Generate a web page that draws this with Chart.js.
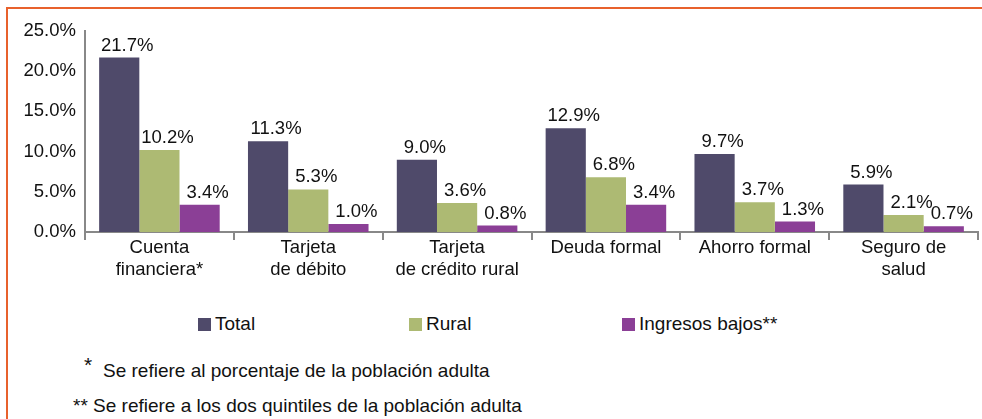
<!DOCTYPE html>
<html>
<head>
<meta charset="utf-8">
<script src="https://cdn.jsdelivr.net/npm/chart.js@4.4.0/dist/chart.umd.min.js"></script>
<style>
  body { margin: 0; background: #fff; width: 982px; height: 419px; overflow: hidden; position: relative; font-family: "Liberation Sans", Arial, sans-serif; }
  #frame { position: absolute; left: 6px; top: 7px; width: 980px; height: 420px; border-top: 2px solid #e8612c; border-left: 2px solid #e8612c; }
  #wrap { position: absolute; left: 0; top: 0; width: 982px; height: 300px; }
  .leg { position: absolute; top: 313px; font-family: "Liberation Sans Narrow", "Liberation Sans", Arial, sans-serif; font-size: 19px; color: #111; line-height: 22px; }
  .leg i { display: inline-block; width: 13px; height: 13px; vertical-align: -1px; margin-right: 4px; }
  .note { position: absolute; font-family: "Liberation Sans Narrow", "Liberation Sans", Arial, sans-serif; font-size: 19px; color: #111; line-height: 22px; }
</style>
</head>
<body>
<div id="frame"></div>
<div id="wrap"><canvas id="c"></canvas></div>
<div class="leg" style="left:198px"><i style="background:#4f4a6a"></i>Total</div>
<div class="leg" style="left:409px"><i style="background:#adba73"></i>Rural</div>
<div class="leg" style="left:622px"><i style="background:#8b3f96"></i>Ingresos bajos**</div>
<div class="note" style="left:84px; top:354px; font-size:21px">*</div>
<div class="note" style="left:103px; top:360px">Se refiere al porcentaje de la población adulta</div>
<div class="note" style="left:73px; top:395px">** Se refiere a los dos quintiles de la población adulta</div>
<script>
// Categorías y valores (%)
const categorias = [
    ['Cuenta', 'financiera*'],
    ['Tarjeta', 'de débito'],
    ['Tarjeta', 'de crédito rural'],
    'Deuda formal',
    'Ahorro formal',
    ['Seguro de', 'salud']
];
const total = [21.7, 11.3, 9.0, 12.9, 9.7, 5.9];
const rural = [10.2, 5.3, 3.6, 6.8, 3.7, 2.1];
const ingresosBajos = [3.4, 1.0, 0.8, 3.4, 1.3, 0.7];
const ticksY = [0, 5, 10, 15, 20, 25];

const colores = ['#4f4a6a', '#adba73', '#8b3f96'];
const fuente = '"Liberation Sans", Arial, sans-serif';

// Etiquetas de valor sobre cada barra (un poco a la derecha, como en el original)
const etiquetasPlugin = {
    id: 'etiquetas',
    afterDatasetsDraw(chart) {
        const ctx = chart.ctx;
        ctx.save();
        ctx.font = '18.5px ' + fuente;
        ctx.fillStyle = '#111';
        ctx.textAlign = 'center';
        ctx.textBaseline = 'alphabetic';
        chart.data.datasets.forEach((ds, i) => {
            chart.getDatasetMeta(i).data.forEach((bar, j) => {
                ctx.fillText(ds.data[j].toFixed(1) + '%', bar.x + 8, bar.y - 7);
            });
        });
        ctx.restore();
    }
};

// Marcas del eje X entre categorías
const ejeXPlugin = {
    id: 'ejeX',
    afterDraw(chart) {
        const ctx = chart.ctx;
        const area = chart.chartArea;
        const n = chart.data.labels.length;
        const w = (area.right - area.left) / n;
        ctx.save();
        ctx.strokeStyle = '#888';
        ctx.lineWidth = 2;
        for (let i = 0; i <= n; i++) {
            const x = Math.round(area.left + i * w);
            ctx.beginPath();
            ctx.moveTo(x, area.bottom);
            ctx.lineTo(x, area.bottom + 8);
            ctx.stroke();
        }
        ctx.restore();
    }
};

new Chart(document.getElementById('c'), {
    type: 'bar',
    data: {
        labels: categorias,
        datasets: [
            { label: 'Total', data: total, backgroundColor: colores[0] },
            { label: 'Rural', data: rural, backgroundColor: colores[1] },
            { label: 'Ingresos bajos**', data: ingresosBajos, backgroundColor: colores[2] }
        ]
    },
    options: {
        responsive: true,
        maintainAspectRatio: false,
        animation: false,
        layout: { padding: { top: 31, right: 4, left: 0, bottom: 0 } },
        datasets: { bar: { categoryPercentage: 0.81, barPercentage: 1 } },
        plugins: {
            legend: { display: false },
            tooltip: { enabled: false }
        },
        scales: {
            x: {
                grid: { display: false, drawTicks: false },
                border: { color: '#888', width: 2 },
                ticks: {
                    color: '#111',
                    font: { size: 18.5, family: fuente, lineHeight: 1.2 },
                    padding: 5,
                    maxRotation: 0,
                    autoSkip: false
                },
                afterFit(scale) { scale.height = 68; }
            },
            y: {
                min: 0,
                max: 25,
                afterBuildTicks(scale) { scale.ticks = ticksY.map(v => ({ value: v })); },
                grid: { display: false, drawTicks: true, tickLength: 6, color: '#888', lineWidth: 2 },
                border: { color: '#888', width: 2 },
                ticks: {
                    color: '#111',
                    font: { size: 18.5, family: fuente },
                    padding: 3,
                    callback: v => v.toFixed(1) + '%'
                },
                afterFit(scale) { scale.width = 85; }
            }
        }
    },
    plugins: [etiquetasPlugin, ejeXPlugin]
});
</script>
</body>
</html>
